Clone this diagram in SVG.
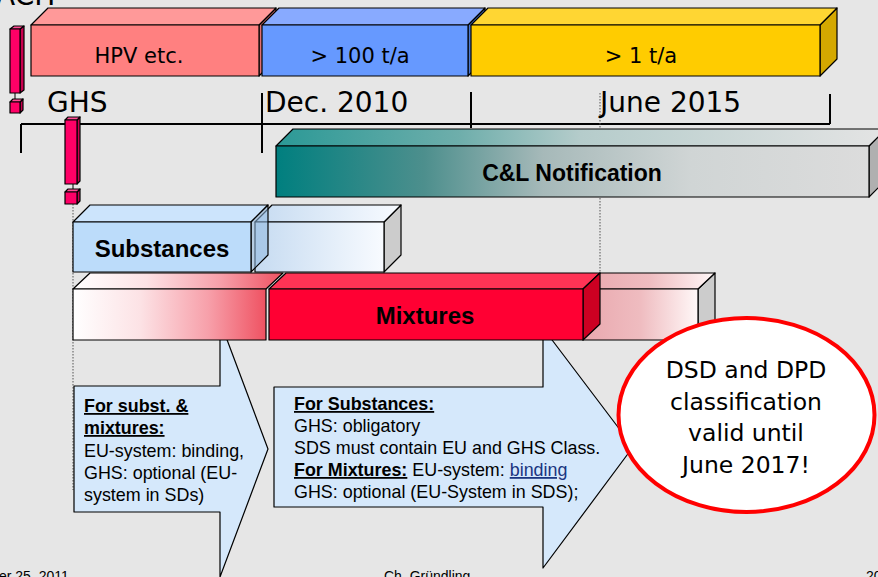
<svg xmlns="http://www.w3.org/2000/svg" width="878" height="577" viewBox="0 0 878 577">
<defs>
<style>
.s{stroke:#000;stroke-width:1.2;stroke-linejoin:round}
.lbl{font-family:"DejaVu Sans",sans-serif;fill:#000}
.bold{font-family:"Liberation Sans",Arial,sans-serif;font-weight:bold;fill:#000}
.body{font-family:"Liberation Sans",Arial,sans-serif;font-size:17.9px;fill:#000}
.tick{stroke:#000;stroke-width:2;fill:none}
.dot{stroke:#555;stroke-width:1;stroke-dasharray:1.5 1.5;fill:none}
.pk{fill:#ff0066}.pkt{fill:#ff4d94}.pks{fill:#c8004f}
</style>
<linearGradient id="gCL" x1="0" x2="1" y1="0" y2="0">
<stop offset="0" stop-color="#007f7f"/><stop offset="0.25" stop-color="#4d8f8d"/><stop offset="0.45" stop-color="#a6b9b9"/><stop offset="0.7" stop-color="#d0d5d5"/><stop offset="1" stop-color="#dcdcdc"/>
</linearGradient>
<linearGradient id="gCLt" x1="0" x2="1" y1="0" y2="0">
<stop offset="0" stop-color="#2b9996"/><stop offset="0.3" stop-color="#6eaeab"/><stop offset="0.5" stop-color="#b5cccb"/><stop offset="1" stop-color="#e4e4e4"/>
</linearGradient>
<linearGradient id="gSub" x1="0" x2="1" y1="0" y2="0">
<stop offset="0" stop-color="#c6dbf1"/><stop offset="1" stop-color="#f8fbff"/>
</linearGradient>
<linearGradient id="gMixL" x1="0" x2="1" y1="0" y2="0">
<stop offset="0" stop-color="#ffffff"/><stop offset="0.35" stop-color="#fce2e5"/><stop offset="0.7" stop-color="#f7a0aa"/><stop offset="1" stop-color="#ef5262"/>
</linearGradient>
<linearGradient id="gMixR" x1="0" x2="1" y1="0" y2="0">
<stop offset="0" stop-color="#e9a8ae"/><stop offset="0.5" stop-color="#efbcc0"/><stop offset="1" stop-color="#fff8f8"/>
</linearGradient>
</defs>
<rect x="0" y="0" width="878" height="577" fill="#e6e6e6"/>

<text class="lbl" x="-4" y="5" font-size="28">ACH</text>

<g id="timeline">
<line class="tick" x1="21" y1="124" x2="830" y2="124"/>
<line class="tick" x1="21" y1="124" x2="21" y2="153"/>
<line class="tick" x1="262" y1="93" x2="262" y2="153"/>
<line class="tick" x1="471" y1="92" x2="471" y2="128"/>
<line class="tick" x1="830" y1="94" x2="830" y2="124"/>
<line class="dot" x1="600" y1="93" x2="600" y2="273"/>
<line class="dot" x1="73" y1="204" x2="73" y2="490"/>
<text class="lbl" x="47" y="112" font-size="28">GHS</text>
<text class="lbl" x="265" y="112" font-size="28">Dec. 2010</text>
<text class="lbl" x="600" y="112" font-size="28">June 2015</text>
</g>

<g id="hpv">
<polygon class="s" fill="#e07070" points="259,25 276,8 276,59 259,76"/>
<polygon class="s" fill="#ff9999" points="31,25 48,8 276,8 259,25"/>
<rect class="s" fill="#ff8080" x="31" y="25" width="228" height="51"/>
<text class="lbl" x="139" y="63" font-size="21" text-anchor="middle">HPV etc.</text>
</g>
<g id="t100">
<polygon class="s" fill="#4a78d0" points="468,25 485,8 485,59 468,76"/>
<polygon class="s" fill="#88aaff" points="262,25 279,8 485,8 468,25"/>
<rect class="s" fill="#6699ff" x="262" y="25" width="206" height="51"/>
<text class="lbl" x="360" y="63" font-size="21" text-anchor="middle">&gt; 100 t/a</text>
</g>
<g id="t1">
<polygon class="s" fill="#d4a800" points="820,25 837,8 837,59 820,76"/>
<polygon class="s" fill="#ffd633" points="471,25 488,8 837,8 820,25"/>
<rect class="s" fill="#ffcc00" x="471" y="25" width="349" height="51"/>
<text class="lbl" x="641" y="63" font-size="21" text-anchor="middle">&gt; 1 t/a</text>
</g>

<g id="marker1">
<polygon class="s pks" stroke-width="0.8" points="20,29 24,26 24,90 20,93"/>
<polygon class="s pkt" stroke-width="0.8" points="10,29 14,26 24,26 20,29"/>
<rect class="s pk" stroke-width="0.8" x="10" y="29" width="10" height="64"/>
<line x1="15" y1="93" x2="15" y2="102" stroke="#000" stroke-width="1"/>
<polygon class="s pks" stroke-width="0.8" points="20,102 23,99 23,110 20,113"/>
<polygon class="s pkt" stroke-width="0.8" points="10,102 13,99 23,99 20,102"/>
<rect class="s pk" stroke-width="0.8" x="10" y="102" width="10" height="11"/>
</g>
<g id="marker2">
<polygon class="s pks" stroke-width="0.8" points="77,120 80,117 80,181 77,184"/>
<polygon class="s pkt" stroke-width="0.8" points="65,120 68,117 80,117 77,120"/>
<rect class="s pk" stroke-width="0.8" x="65" y="120" width="12" height="64"/>
<line x1="73" y1="184" x2="73" y2="192" stroke="#000" stroke-width="1"/>
<polygon class="s pks" stroke-width="0.8" points="77,192 80,189 80,201 77,204"/>
<polygon class="s pkt" stroke-width="0.8" points="65,192 68,189 80,189 77,192"/>
<rect class="s pk" stroke-width="0.8" x="65" y="192" width="12" height="12"/>
</g>

<g id="cl">
<polygon class="s" fill="#b0b0b0" points="869,146 886,129 886,180 869,197"/>
<polygon class="s" fill="url(#gCLt)" points="276,146 293,129 886,129 869,146"/>
<rect class="s" fill="url(#gCL)" x="276" y="146" width="593" height="51"/>
<text class="bold" x="572" y="181" font-size="23" text-anchor="middle">C&amp;L Notification</text>
</g>

<g id="substances">
<polygon class="s" fill="#cccccc" points="384,222 401,205 401,255 384,272"/>
<polygon class="s" fill="url(#gSub)" points="255,222 272,205 401,205 384,222"/>
<rect class="s" fill="url(#gSub)" x="255" y="222" width="129" height="50"/>
<polygon class="s" fill="#cce4fc" points="73,222 90,205 268,205 251,222"/>
<polygon class="s" fill="#90b8e0" fill-opacity="0.55" points="251,222 268,205 268,255 251,272"/>
<rect class="s" fill="#bcdcfa" x="73" y="222" width="178" height="50"/>
<text class="bold" x="162" y="257" font-size="24" text-anchor="middle">Substances</text>
</g>

<g id="arrow1">
<polygon class="s" fill="#d5e8fb" points="74,386 220,386 220,321 268,449 220,577 220,512 74,512"/>
<text class="body" x="84" y="412"><tspan font-weight="bold" text-decoration="underline">For subst. &amp; </tspan></text>
<text class="body" x="84" y="434"><tspan font-weight="bold" text-decoration="underline">mixtures:</tspan></text>
<text class="body" x="84" y="457">EU-system: binding,</text>
<text class="body" x="84" y="479">GHS: optional (EU-</text>
<text class="body" x="84" y="501">system in SDs)</text>
</g>

<g id="arrow2">
<polygon class="s" fill="#d5e8fb" points="274,387 543,387 543,328 633,447 543,568 543,507 274,507"/>
<text class="body" x="294" y="410"><tspan font-weight="bold" text-decoration="underline">For Substances:</tspan></text>
<text class="body" x="294" y="432">GHS: obligatory</text>
<text class="body" x="294" y="454">SDS must contain EU and GHS Class.</text>
<text class="body" x="294" y="476"><tspan font-weight="bold" text-decoration="underline">For Mixtures:</tspan> EU-system: <tspan fill="#1a3580" text-decoration="underline">binding</tspan></text>
<text class="body" x="294" y="498">GHS: optional (EU-System in SDS);</text>
</g>

<g id="mixtures">
<polygon class="s" fill="url(#gMixL)" points="73,289 90,273 283,273 266,289"/>
<rect class="s" fill="url(#gMixL)" x="73" y="289" width="193" height="51"/>
<polygon class="s" fill="#cccccc" points="698,289 715,273 715,324 698,340"/>
<polygon class="s" fill="url(#gMixR)" points="583,289 600,273 715,273 698,289"/>
<rect class="s" fill="url(#gMixR)" x="583" y="289" width="115" height="51"/>
<polygon class="s" fill="#ff3355" points="269,289 286,273 600,273 583,289"/>
<polygon class="s" fill="#cc0022" points="583,289 600,273 600,324 583,340"/>
<rect class="s" fill="#ff0033" x="269" y="289" width="314" height="51"/>
<text class="bold" x="425" y="324" font-size="24" text-anchor="middle">Mixtures</text>
</g>

<g id="note">
<ellipse cx="746.5" cy="415" rx="128" ry="97" fill="#ffffff" stroke="#ff0000" stroke-width="4"/>
<g class="lbl" font-size="23.5" text-anchor="middle">
<text x="746" y="378">DSD and DPD</text>
<text x="746" y="410">classification</text>
<text x="746" y="441">valid until</text>
<text x="746" y="473">June 2017!</text>
</g>
</g>

<g id="footer" font-family="'Liberation Sans',Arial,sans-serif" font-size="14" fill="#000">
<text x="-1" y="581">er 25, 2011</text>
<text x="384" y="581">Ch. Gründling</text>
<text x="866" y="581">20</text>
</g>
</svg>
